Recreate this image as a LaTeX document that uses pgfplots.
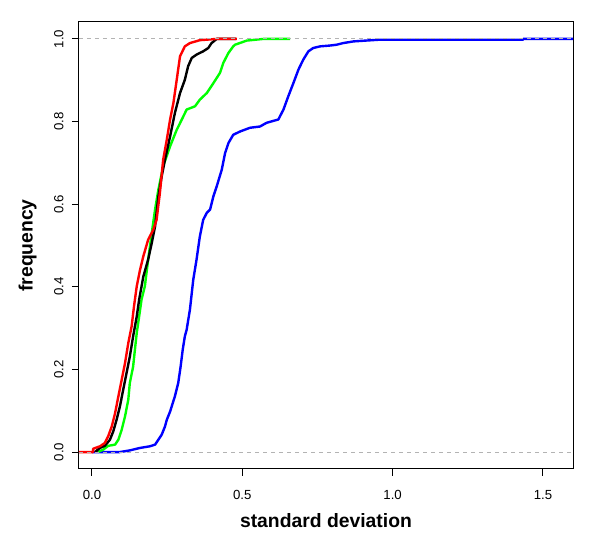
\documentclass[border=0pt]{standalone}
\usepackage{fontspec}
\setmainfont{Liberation Sans}
\usepackage{pgfplots}
\pgfplotsset{compat=1.18}
\definecolor{grayseventy}{RGB}{179,179,179}
\definecolor{rgreen}{RGB}{0,255,0}
\definecolor{rred}{RGB}{255,0,0}
\definecolor{rblue}{RGB}{0,0,255}
\begin{document}
\begin{tikzpicture}
\useasboundingbox (0,0) rectangle (450pt,405.75pt);
\begin{axis}[
  at={(59.25pt,54pt)}, anchor=south west,
  scale only axis, width=370.5pt, height=335.25pt,
  xmin=-0.043, xmax=1.6, ymin=-0.041, ymax=1.041,
  xtick={0,0.5,1,1.5}, ytick={0,0.2,0.4,0.6,0.8,1},
  axis line style={line width=0.75pt},
  tick style={black, line width=0.75pt},
  tick align=outside, major tick length=5.25pt,
  tick pos=left,
  /pgf/number format/assume math mode=true,
  /pgf/number format/fixed, /pgf/number format/fixed zerofill, /pgf/number format/precision=1,
  ticklabel style={font=\fontsize{9.9}{11}\selectfont},
  yticklabel style={rotate=90, anchor=south},
  xticklabel shift=7.4pt, yticklabel shift=2.9pt,
  xlabel={standard deviation}, ylabel={frequency},
  label style={font=\fontsize{14.5}{17}\selectfont\bfseries},
  xlabel style={at={(axis description cs:0.5,-0.1157)}, anchor=center},
  ylabel style={at={(axis description cs:-0.104,0.5)}, anchor=center, rotate=0},
  clip=true,
]
% blue
\addplot[rblue, line width=1.8pt, line join=round] coordinates {
(0,0) (0.093,0) (0.126,0.004) (0.160,0.010) (0.193,0.014) (0.210,0.018) (0.221,0.030) (0.232,0.042)
(0.243,0.062) (0.249,0.078) (0.260,0.098) (0.269,0.119) (0.276,0.135) (0.287,0.167) (0.295,0.207)
(0.302,0.248) (0.309,0.280) (0.315,0.296) (0.326,0.345) (0.337,0.417) (0.348,0.466) (0.359,0.522)
(0.370,0.562) (0.382,0.579) (0.393,0.587) (0.404,0.619) (0.415,0.643) (0.432,0.684) (0.443,0.724)
(0.454,0.748) (0.470,0.768) (0.493,0.776) (0.526,0.785) (0.559,0.788) (0.581,0.797) (0.620,0.805)
(0.637,0.829) (0.653,0.861) (0.670,0.893) (0.687,0.926) (0.703,0.950) (0.720,0.970) (0.736,0.978)
(0.759,0.982) (0.792,0.984) (0.814,0.986) (0.836,0.990) (0.870,0.994) (0.953,0.998) (1.434,0.998)
(1.434,1.0) (1.6,1.0)
};
% green
\addplot[rgreen, line width=1.8pt, line join=round] coordinates {
(0.020,0) (0.038,0.006) (0.054,0.015) (0.077,0.018) (0.088,0.030) (0.099,0.054) (0.110,0.086)
(0.121,0.127) (0.126,0.167) (0.137,0.207) (0.143,0.248) (0.149,0.288) (0.157,0.328) (0.165,0.369)
(0.176,0.401) (0.187,0.466) (0.199,0.530) (0.210,0.587) (0.221,0.635) (0.237,0.692) (0.260,0.740)
(0.282,0.780) (0.299,0.805) (0.315,0.829) (0.343,0.837) (0.359,0.853) (0.382,0.869) (0.404,0.893)
(0.426,0.918) (0.437,0.942) (0.454,0.966) (0.470,0.982) (0.476,0.986) (0.515,0.996) (0.570,1.0)
(0.659,1.0)
};
% black
\addplot[black, line width=1.8pt, line join=round] coordinates {
(0.010,0) (0.027,0.010) (0.043,0.015) (0.060,0.030) (0.071,0.050) (0.082,0.078) (0.093,0.110)
(0.104,0.151) (0.115,0.191) (0.126,0.231) (0.137,0.280) (0.149,0.328) (0.157,0.369) (0.171,0.425)
(0.187,0.466) (0.199,0.506) (0.210,0.546) (0.221,0.619) (0.232,0.667) (0.243,0.708) (0.260,0.764)
(0.276,0.821) (0.293,0.869) (0.309,0.901) (0.320,0.934) (0.332,0.954) (0.348,0.962) (0.370,0.970)
(0.387,0.978) (0.398,0.990) (0.415,1.0) (0.479,1.0)
};
% red
\addplot[rred, line width=1.8pt, line join=round] coordinates {
(-0.043,0) (0.004,0) (0.004,0.008) (0.027,0.014) (0.043,0.022) (0.054,0.038) (0.066,0.062)
(0.077,0.094) (0.088,0.135) (0.099,0.175) (0.110,0.215) (0.121,0.264) (0.132,0.304) (0.140,0.353)
(0.149,0.401) (0.160,0.441) (0.171,0.474) (0.187,0.514) (0.204,0.538) (0.215,0.562) (0.226,0.627)
(0.237,0.708) (0.249,0.756) (0.260,0.805) (0.271,0.845) (0.282,0.901) (0.293,0.958) (0.309,0.982)
(0.326,0.990) (0.359,0.997) (0.415,1.0) (0.482,1.0)
};
% reference lines at 0 and 1
\addplot[grayseventy, line width=0.75pt, dash pattern=on 3pt off 3pt] coordinates {(-0.043,0) (1.6,0)};
\addplot[grayseventy, line width=0.75pt, dash pattern=on 3pt off 3pt] coordinates {(-0.043,1) (1.6,1)};
\end{axis}
\end{tikzpicture}
\end{document}
